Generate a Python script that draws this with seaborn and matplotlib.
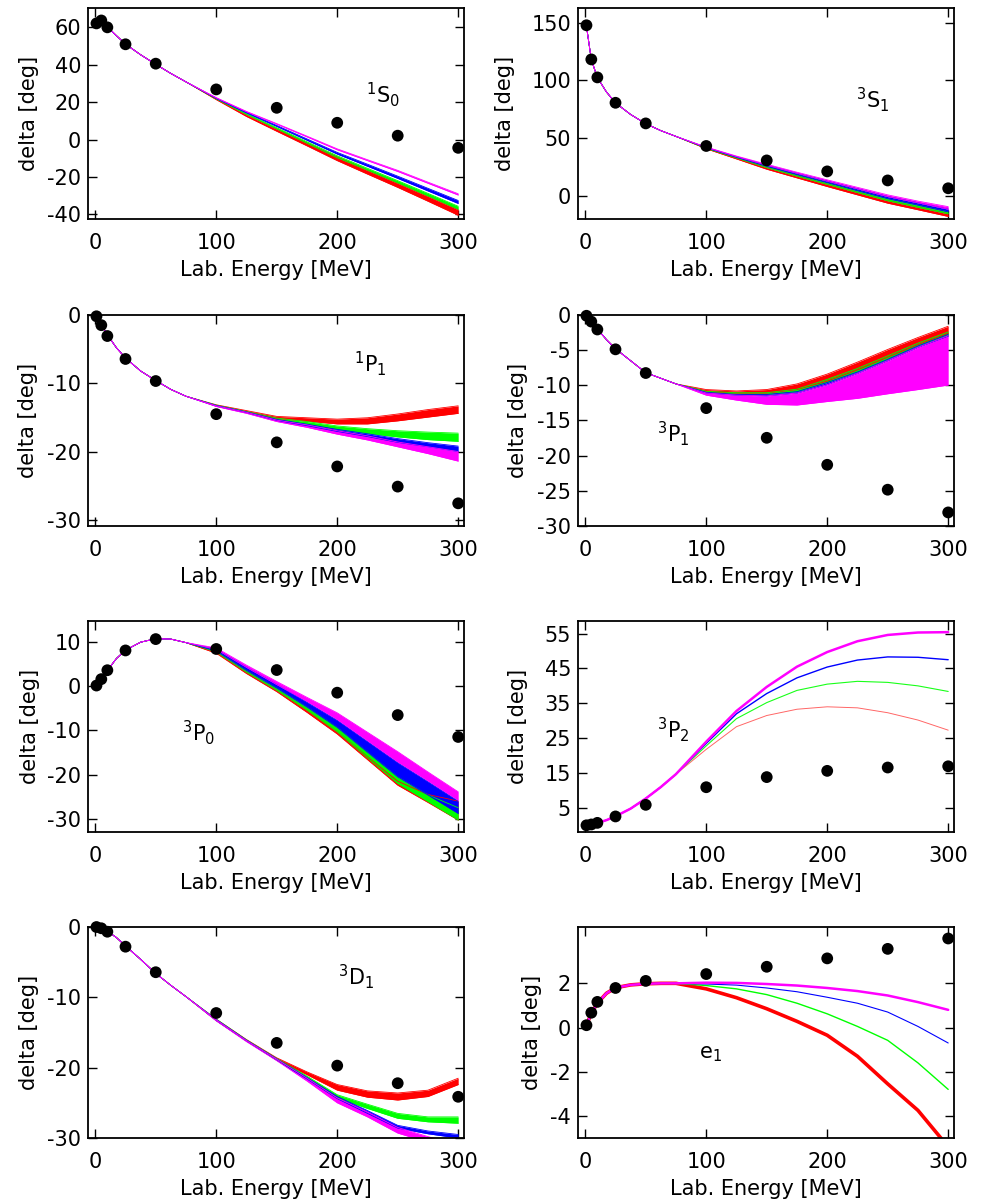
import matplotlib
matplotlib.use("Agg")
import matplotlib.pyplot as plt
import seaborn as sns

# ---------------------------------------------------------------------------
# Partial-wave analysis points (lab energy in MeV, phase shifts in degrees)
# ---------------------------------------------------------------------------
pwa_energy = [1, 5, 10, 25, 50, 100, 150, 200, 250, 300]

pwa_1S0 = [62.07, 63.63, 59.96, 50.90, 40.54, 26.78, 16.94, 8.94, 2.04, -4.46]
pwa_3S1 = [147.75, 118.18, 102.61, 80.63, 62.77, 43.23, 30.72, 21.22, 13.39, 6.60]
pwa_1P1 = [-0.19, -1.49, -3.08, -6.44, -9.67, -14.52, -18.65, -22.18, -25.13, -27.58]
pwa_3P1 = [-0.11, -0.94, -2.06, -4.88, -8.25, -13.24, -17.46, -21.30, -24.84, -28.07]
pwa_3P0 = [0.18, 1.63, 3.65, 8.13, 10.70, 8.46, 3.69, -1.44, -6.51, -11.47]
pwa_3P2 = [0.02, 0.26, 0.72, 2.56, 5.89, 10.94, 13.84, 15.63, 16.59, 16.94]
pwa_3D1 = [-0.005, -0.18, -0.67, -2.80, -6.43, -12.23, -16.48, -19.71, -22.21, -24.14]
pwa_e1 = [0.105, 0.67, 1.16, 1.79, 2.11, 2.42, 2.75, 3.13, 3.56, 4.03]

# ---------------------------------------------------------------------------
# Theory curves: below 100 MeV all cutoffs coincide (shared low-energy part),
# above that every cutoff gives a band (lower edge, upper edge)
# ---------------------------------------------------------------------------
energy_low = [1, 5, 10, 17.5, 25, 37.5, 50, 62.5, 75]
energy_high = [100, 125, 150, 175, 200, 225, 250, 275, 300]

# 1S0
low_1S0 = [62.0, 63.5, 60.2, 55.5, 51.0, 45.3, 40.2, 35.3, 30.8]
red_1S0 = ([21.3, 12.3, 4.4, -3.4, -11.3, -18.5, -25.6, -33.0, -40.5],
           [21.7, 13.1, 5.5, -2.0, -9.5, -16.5, -23.4, -30.4, -37.5])
green_1S0 = ([21.7, 13.4, 5.7, -2.0, -9.7, -16.4, -23.2, -30.2, -37.3],
             [21.9, 13.8, 6.3, -1.2, -8.7, -15.4, -22.0, -28.8, -35.7])
blue_1S0 = ([21.9, 14.2, 7.0, -0.4, -7.8, -14.3, -20.8, -27.5, -34.2],
            [22.1, 14.5, 7.5, 0.3, -6.9, -13.2, -19.6, -26.1, -32.6])
magenta_1S0 = ([22.2, 14.8, 8.2, 1.4, -5.5, -11.3, -17.1, -23.4, -29.7],
               [22.4, 15.0, 8.5, 1.8, -5.0, -10.8, -16.5, -22.8, -29.0])

# 3S1
low_3S1 = [147.0, 118.0, 102.5, 90.0, 80.5, 70.5, 62.5, 56.5, 51.5]
red_3S1 = ([40.8, 32.0, 23.1, 15.6, 8.1, 0.9, -6.3, -12.0, -17.8],
           [41.2, 32.8, 24.5, 17.1, 10.0, 2.9, -4.2, -9.9, -15.5])
green_3S1 = ([41.2, 32.8, 24.5, 17.1, 10.0, 2.9, -4.2, -9.9, -15.5],
             [41.6, 33.4, 25.6, 18.4, 11.5, 4.5, -2.4, -8.0, -13.8])
blue_3S1 = ([41.6, 33.4, 25.6, 18.4, 11.5, 4.5, -2.4, -8.0, -13.8],
            [42.0, 34.0, 26.6, 19.6, 12.8, 6.1, -0.6, -6.0, -11.5])
magenta_3S1 = ([42.0, 34.0, 26.6, 19.6, 12.8, 6.1, -0.6, -6.0, -11.5],
               [42.3, 34.5, 27.4, 20.5, 13.9, 7.4, 0.9, -4.5, -9.3])

# 1P1
low_1P1 = [-0.1, -1.4, -2.9, -4.8, -6.3, -8.2, -9.6, -10.9, -11.9]
red_1P1 = ([-13.25, -14.2, -15.15, -15.55, -15.95, -15.95, -15.5, -14.95, -14.4],
           [-13.15, -14.0, -14.85, -15.05, -15.25, -15.05, -14.5, -13.85, -13.3])
green_1P1 = ([-13.3, -14.25, -15.3, -16.0, -16.75, -17.35, -17.85, -18.25, -18.5],
             [-13.2, -14.15, -15.1, -15.6, -16.25, -16.65, -16.95, -17.15, -17.3])
blue_1P1 = ([-13.35, -14.3, -15.45, -16.2, -17.05, -17.8, -18.65, -19.3, -20.0],
            [-13.25, -14.2, -15.3, -16.0, -16.75, -17.4, -18.1, -18.7, -19.2])
magenta_1P1 = ([-13.4, -14.4, -15.6, -16.45, -17.45, -18.3, -19.3, -20.3, -21.4],
               [-13.3, -14.25, -15.4, -16.1, -16.95, -17.7, -18.6, -19.3, -20.0])

# 3P1
low_3P1 = [-0.1, -0.9, -2.0, -3.5, -4.8, -6.5, -8.2, -9.0, -9.8]
red_3P1 = ([-10.9, -11.1, -11.1, -10.6, -9.4, -7.8, -6.0, -4.2, -2.6],
           [-10.6, -10.8, -10.6, -9.8, -8.4, -6.7, -4.9, -3.2, -1.6])
green_3P1 = ([-11.0, -11.3, -11.3, -10.9, -9.6, -8.1, -6.3, -4.4, -2.8],
             [-10.85, -11.05, -11.05, -10.55, -9.15, -7.6, -5.8, -4.0, -2.4])
blue_3P1 = ([-11.1, -11.4, -11.5, -11.1, -9.9, -8.3, -6.5, -4.6, -3.0],
            [-11.0, -11.3, -11.3, -10.9, -9.6, -8.1, -6.3, -4.4, -2.75])
magenta_3P1 = ([-11.4, -12.1, -12.7, -12.8, -12.3, -11.85, -11.2, -10.6, -9.96],
               [-11.1, -11.4, -11.5, -11.1, -9.9, -8.3, -6.5, -4.6, -2.95])

# 3P0
low_3P0 = [0.2, 1.6, 3.6, 6.3, 8.2, 10.0, 10.8, 10.7, 9.9]
red_3P0 = ([7.5, 2.9, -1.2, -5.9, -10.8, -16.6, -22.4, -26.3, -30.3],
           [7.8, 3.2, -0.9, -5.4, -10.3, -16.0, -21.5, -24.5, -26.0])
green_3P0 = ([7.8, 3.2, -0.9, -5.4, -10.3, -16.2, -22.0, -26.1, -30.3],
             [8.0, 3.6, -0.4, -4.7, -9.3, -14.9, -20.5, -24.6, -27.5])
blue_3P0 = ([8.0, 3.6, -0.4, -4.7, -9.3, -14.9, -20.5, -24.6, -28.8],
            [8.4, 4.3, 0.4, -3.6, -7.7, -12.5, -17.3, -21.6, -26.0])
magenta_3P0 = ([8.4, 4.3, 0.4, -3.4, -7.5, -12.3, -17.1, -21.4, -25.8],
               [8.7, 4.8, 1.1, -2.5, -6.0, -10.4, -14.8, -19.4, -23.9])

# 3P2 (single curves per cutoff)
low_3P2 = [0.0, 0.3, 0.7, 1.5, 2.6, 4.8, 7.7, 11.0, 14.7]
red_3P2 = [21.8, 28.3, 31.5, 33.3, 34.0, 33.7, 32.3, 30.2, 27.3]
green_3P2 = [22.8, 30.6, 35.2, 38.7, 40.5, 41.3, 41.0, 40.0, 38.4]
blue_3P2 = [23.5, 32.0, 37.8, 42.3, 45.4, 47.4, 48.3, 48.2, 47.5]
magenta_3P2 = [24.0, 32.8, 39.7, 45.5, 49.7, 52.8, 54.6, 55.3, 55.4]

# 3D1
low_3D1 = [0.0, -0.2, -0.6, -1.5, -2.7, -4.6, -6.6, -8.3, -9.9]
red_3D1 = ([-13.3, -16.2, -18.9, -21.0, -23.2, -24.2, -24.6, -24.1, -22.4],
           [-13.1, -16.0, -18.6, -20.6, -22.4, -23.3, -23.6, -23.2, -21.5])
green_3D1 = ([-13.3, -16.2, -18.9, -21.5, -24.3, -25.8, -27.2, -27.7, -27.9],
             [-13.1, -16.05, -18.7, -21.2, -23.85, -25.2, -26.5, -27.0, -27.0])
blue_3D1 = ([-13.3, -16.2, -18.95, -21.6, -24.4, -26.5, -28.6, -29.4, -30.0],
            [-13.15, -16.1, -18.75, -21.4, -24.1, -26.1, -28.2, -29.0, -29.5])
magenta_3D1 = ([-13.35, -16.3, -19.0, -21.9, -25.0, -27.0, -29.3, -30.6, -32.0],
               [-13.2, -16.15, -18.8, -21.5, -24.3, -26.3, -28.5, -29.8, -31.0])

# e1 mixing angle (single curves per cutoff)
low_e1 = [0.1, 0.65, 1.1, 1.55, 1.8, 1.93, 1.98, 2.0, 2.0]
red_e1 = [1.75, 1.35, 0.85, 0.28, -0.35, -1.3, -2.55, -3.75, -5.4]
green_e1 = [1.9, 1.75, 1.49, 1.1, 0.62, 0.05, -0.58, -1.6, -2.8]
blue_e1 = [1.97, 1.92, 1.79, 1.62, 1.37, 1.1, 0.7, 0.05, -0.7]
magenta_e1 = [2.03, 2.02, 1.97, 1.9, 1.79, 1.65, 1.45, 1.15, 0.8]

energy_grid = energy_low + energy_high
cutoff_colors = ["#ff0000", "#00ff00", "#0000ff", "#ff00ff"]

# ---------------------------------------------------------------------------
sns.set_style("ticks")
plt.rcParams["font.family"] = ["DejaVu Sans"]
plt.rcParams["mathtext.default"] = "regular"
plt.rcParams["axes.unicode_minus"] = False
for key in ["text.color", "axes.labelcolor", "xtick.color", "ytick.color",
            "axes.edgecolor", "xtick.labelcolor", "ytick.labelcolor"]:
    plt.rcParams[key] = "black"
FS = 15

fig = plt.figure(figsize=(9.86, 12.01), dpi=100)

col_left = [88 / 986, 578 / 986]
ax_w = 376 / 986
ax_h = 211 / 1201
row_bottom = [1 - 219 / 1201, 1 - 526 / 1201, 1 - 832 / 1201, 1 - 1138 / 1201]

panels = [
    dict(pwa=pwa_1S0, low=low_1S0, bands=[red_1S0, green_1S0, blue_1S0, magenta_1S0],
         ylim=(-42.5, 70.3), yticks=[-40, -20, 0, 20, 40, 60],
         label=r"$^1$S$_0$", lpos=(0.785, 0.588), ylx=-0.158),
    dict(pwa=pwa_3S1, low=low_3S1, bands=[red_3S1, green_3S1, blue_3S1, magenta_3S1],
         ylim=(-20, 162.7), yticks=[0, 50, 100, 150],
         label=r"$^3$S$_1$", lpos=(0.785, 0.564), ylx=-0.194),
    dict(pwa=pwa_1P1, low=low_1P1, bands=[red_1P1, green_1P1, blue_1P1, magenta_1P1],
         ylim=(-30.9, 0), yticks=[-30, -20, -10, 0],
         label=r"$^1$P$_1$", lpos=(0.75, 0.772), ylx=-0.16),
    dict(pwa=pwa_3P1, low=low_3P1, bands=[red_3P1, green_3P1, blue_3P1, magenta_3P1],
         ylim=(-30, 0), yticks=[-30, -25, -20, -15, -10, -5, 0],
         label=r"$^3$P$_1$", lpos=(0.255, 0.44), ylx=-0.16),
    dict(pwa=pwa_3P0, low=low_3P0, bands=[red_3P0, green_3P0, blue_3P0, magenta_3P0],
         ylim=(-33, 14.8), yticks=[-30, -20, -10, 0, 10],
         label=r"$^3$P$_0$", lpos=(0.293, 0.47), ylx=-0.154),
    dict(pwa=pwa_3P2, low=low_3P2, lines=[red_3P2, green_3P2, blue_3P2, magenta_3P2],
         widths=[0.7, 0.8, 1.0, 1.8], alphas=[0.6, 0.9, 1.0, 1.0],
         ylim=(-1.9, 58.6), yticks=[5, 15, 25, 35, 45, 55],
         label=r"$^3$P$_2$", lpos=(0.255, 0.483), ylx=-0.16),
    dict(pwa=pwa_3D1, low=low_3D1, bands=[red_3D1, green_3D1, blue_3D1, magenta_3D1],
         ylim=(-30, 0), yticks=[-30, -20, -10, 0],
         label=r"$^3$D$_1$", lpos=(0.712, 0.763), ylx=-0.157),
    dict(pwa=pwa_e1, low=low_e1, lines=[red_e1, green_e1, blue_e1, magenta_e1],
         widths=[2.6, 1.0, 0.8, 1.8], alphas=[1.0, 1.0, 1.0, 1.0],
         ylim=(-5, 4.55), yticks=[-4, -2, 0, 2],
         label=r"e$_1$", lpos=(0.351, 0.40), ylx=-0.122),
]

for i, p in enumerate(panels):
    row, col = divmod(i, 2)
    ax = fig.add_axes([col_left[col], row_bottom[row], ax_w, ax_h])

    if "bands" in p:
        for color, (lo, hi) in zip(cutoff_colors, p["bands"]):
            y_lo = p["low"] + lo
            y_hi = p["low"] + hi
            ax.fill_between(energy_grid, y_lo, y_hi, color=color, linewidth=0)
            sns.lineplot(x=energy_grid, y=y_lo, color=color, linewidth=0.6,
                         ax=ax, legend=False)
            sns.lineplot(x=energy_grid, y=y_hi, color=color, linewidth=0.6,
                         ax=ax, legend=False)
    else:
        for color, vals, lw, a in zip(cutoff_colors, p["lines"], p["widths"], p["alphas"]):
            sns.lineplot(x=energy_grid, y=p["low"] + vals, color=color,
                         linewidth=lw, alpha=a, ax=ax, legend=False)

    sns.scatterplot(x=pwa_energy, y=p["pwa"], color="black", s=72,
                    edgecolor="none", ax=ax, zorder=5, legend=False)
    ax.collections[-1].set_clip_on(False)

    ax.set_xlim(-6, 304.8)
    ax.set_ylim(*p["ylim"])
    ax.set_xticks([0, 100, 200, 300])
    ax.set_yticks(p["yticks"])
    ax.tick_params(direction="in", top=True, right=True, length=6.5, width=1.0,
                   labelsize=FS, color="black", labelcolor="black")
    ax.tick_params(axis="x", pad=10)
    ax.tick_params(axis="y", pad=5)
    for s in ax.spines.values():
        s.set_linewidth(1.3)
        s.set_color("black")

    ax.set_xlabel("Lab. Energy [MeV]", fontsize=FS, va="center", color="black")
    ax.xaxis.set_label_coords(0.5, -0.24)
    ax.set_ylabel("delta [deg]", fontsize=FS, va="center", color="black")
    ax.yaxis.set_label_coords(p["ylx"], 0.5)

    ax.text(p["lpos"][0], p["lpos"][1], p["label"], transform=ax.transAxes,
            fontsize=FS, ha="center", va="center", color="black")

fig.savefig("out.png", dpi=100)
